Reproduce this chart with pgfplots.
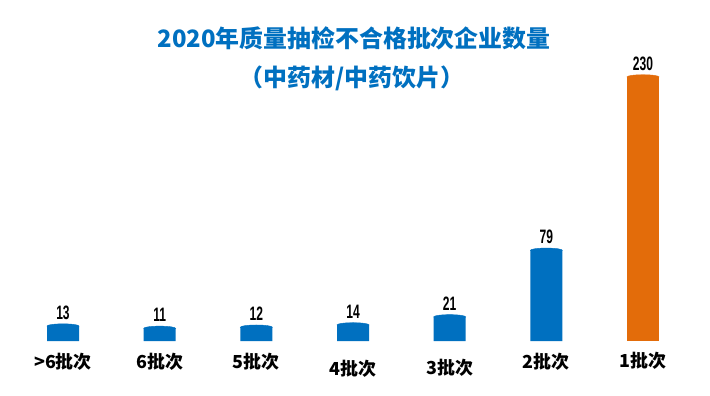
\documentclass[border=0pt]{standalone}
\usepackage{pgfplots}
\pgfplotsset{compat=1.18}
\usepackage{fontspec}
\usepackage{graphicx}
\setmainfont{Liberation Sans}
\newfontfamily\cjk{Noto Sans CJK SC}
\definecolor{myblue}{RGB}{0,112,192}
\definecolor{myorange}{RGB}{227,108,10}
\begin{document}
\begin{tikzpicture}[x=1bp,y=1bp]
\path[use as bounding box, fill=white] (0,0) rectangle (710,395);
\node[font=\cjk\bfseries\fontsize{24}{28}\selectfont, text=myblue] at (354,357) {2020年质量抽检不合格批次企业数量};
\node[font=\cjk\bfseries\fontsize{24}{28}\selectfont, text=myblue] at (352,317) {（中药材/中药饮片）};
\begin{axis}[
  at={(63bp,54bp)}, anchor=origin,
  x=96.67bp, y=1.148bp,
  xmin=-0.6, xmax=6.6, ymin=0, ymax=240,
  axis line style={draw=none},
  tick style={draw=none},
  ytick=\empty,
  xtick={0,1,2,3,4,5,6},
  xticklabels={{>6批次},{6批次},{5批次},{\raisebox{-6.5bp}[\height][\depth]{4批次}},{\raisebox{-6bp}[\height][\depth]{3批次}},{2批次},{\raisebox{1bp}[\height][\depth]{1批次}}},
  xticklabel style={font=\cjk\bfseries\fontsize{18}{21}\selectfont, text=black, anchor=north, yshift=-9bp},
  clip=false,
  /pgf/number format/assume math mode=true,
  nodes near coords={\scalebox{0.62}[1]{\pgfmathprintnumber{\pgfplotspointmeta}}},
  nodes near coords style={font=\bfseries\fontsize{19.5}{22}\selectfont, text=black, anchor=south, yshift=3bp},
]
\addplot[ybar, bar width=32bp, bar shift=0pt, fill=myblue, draw=none] coordinates {(0,13) (1,11) (2,12) (3,14) (4,21) (5,79)};
\addplot[ybar, bar width=32bp, bar shift=0pt, fill=myorange, draw=none] coordinates {(6,230)};
\addplot[only marks, color=myblue, mark=*, mark size=16bp, mark options={fill=myblue, draw=none, yscale=0.14}, nodes near coords=] coordinates {(0,13) (1,11) (2,12) (3,14) (4,21) (5,79)};
\addplot[only marks, color=myorange, mark=*, mark size=16bp, mark options={fill=myorange, draw=none, yscale=0.14}, nodes near coords=] coordinates {(6,230)};
\end{axis}
\end{tikzpicture}
\end{document}
